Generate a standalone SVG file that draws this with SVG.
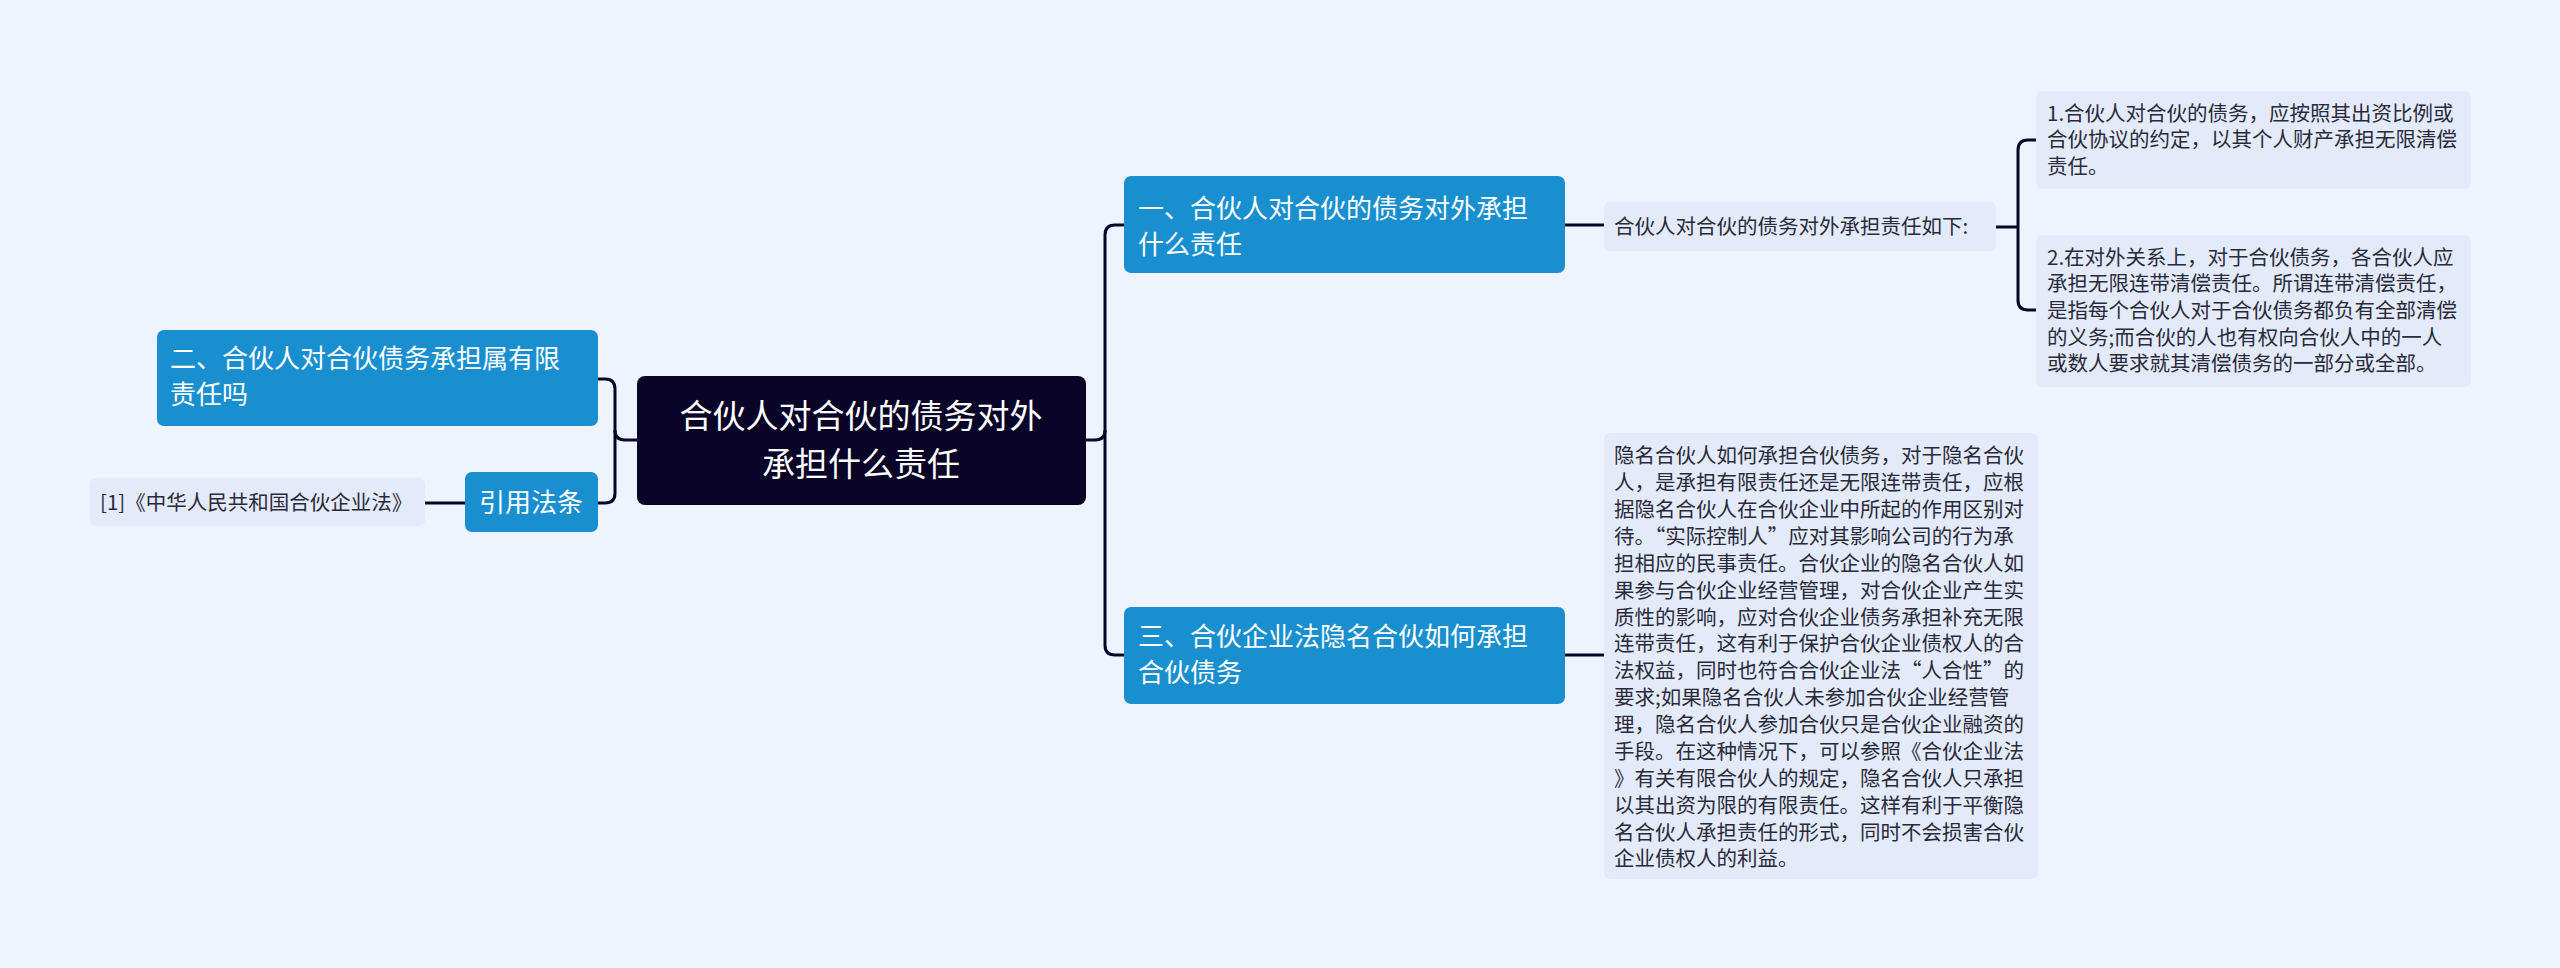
<svg xmlns="http://www.w3.org/2000/svg" width="2560" height="968" viewBox="0 0 2560 968">
<style>
text{font-family:"Noto Sans CJK SC","Noto Sans",sans-serif}
.blue{fill:#1a8fd0}
.lt{fill:#e3ebfb}
.w{fill:#fff;font-size:26px}
.s{fill:#2a2a3a;font-size:20.5px}
.c{fill:none;stroke:#0a0528;stroke-width:3}
</style>
<rect width="2560" height="968" fill="#eef4fe"/>
<g id="connectors">
<path class="c" d="M1086 440H1095Q1105 440 1105 430V235Q1105 225 1115 225H1124"/>
<path class="c" d="M1105 430V645Q1105 655 1115 655H1124"/>
<path class="c" d="M1565 225H1604"/>
<path class="c" d="M1565 655H1604"/>
<path class="c" d="M1996 227H2018"/>
<path class="c" d="M2036 140H2028Q2018 140 2018 150V300Q2018 310 2028 310H2036"/>
<path class="c" d="M637 440H625Q615 440 615 430V389Q615 379 605 379H598"/>
<path class="c" d="M615 430V493Q615 503 605 503H598"/>
<path class="c" d="M465 503H425"/>
</g>
<g id="center">
<rect x="637" y="376" width="449" height="129" rx="8" fill="#0a0528"/>
<text x="861" y="428" text-anchor="middle" fill="#fff" font-size="33">合伙人对合伙的债务对外</text>
<text x="861" y="476" text-anchor="middle" fill="#fff" font-size="33">承担什么责任</text>
</g>
<g id="n1">
<rect class="blue" x="1124" y="176" width="441" height="97" rx="7"/>
<text class="w" x="1138" y="218">一、合伙人对合伙的债务对外承担</text>
<text class="w" x="1138" y="254">什么责任</text>
</g>
<g id="n3">
<rect class="blue" x="1124" y="607" width="441" height="97" rx="7"/>
<text class="w" x="1138" y="646">三、合伙企业法隐名合伙如何承担</text>
<text class="w" x="1138" y="682">合伙债务</text>
</g>
<g id="n2">
<rect class="blue" x="157" y="330" width="441" height="96" rx="7"/>
<text class="w" x="170" y="368">二、合伙人对合伙债务承担属有限</text>
<text class="w" x="170" y="404">责任吗</text>
</g>
<g id="cite">
<rect class="blue" x="465" y="472" width="133" height="60" rx="7"/>
<text class="w" x="531" y="512" text-anchor="middle">引用法条</text>
</g>
<g id="law">
<rect class="lt" x="90" y="478" width="335" height="48" rx="6"/>
<text class="s" x="100" y="510">[1]《中华人民共和国合伙企业法》</text>
</g>
<g id="sub1">
<rect class="lt" x="1604" y="202" width="392" height="49" rx="6"/>
<text class="s" x="1614" y="234">合伙人对合伙的债务对外承担责任如下:</text>
</g>
<g id="d1">
<rect class="lt" x="2036" y="91" width="435" height="98" rx="6"/>
<text class="s" x="2047" y="121">1.合伙人对合伙的债务，应按照其出资比例或</text>
<text class="s" x="2047" y="147">合伙协议的约定，以其个人财产承担无限清偿</text>
<text class="s" x="2047" y="174">责任。</text>
</g>
<g id="d2">
<rect class="lt" x="2036" y="235" width="435" height="152" rx="6"/>
<text class="s" x="2047" y="265">2.在对外关系上，对于合伙债务，各合伙人应</text>
<text class="s" x="2047" y="291">承担无限连带清偿责任。所谓连带清偿责任，</text>
<text class="s" x="2047" y="318">是指每个合伙人对于合伙债务都负有全部清偿</text>
<text class="s" x="2047" y="345">的义务;而合伙的人也有权向合伙人中的一人</text>
<text class="s" x="2047" y="371">或数人要求就其清偿债务的一部分或全部。</text>
</g>
<g id="d3">
<rect class="lt" x="1604" y="433" width="434" height="446" rx="6"/>
<text class="s" x="1614" y="463">隐名合伙人如何承担合伙债务，对于隐名合伙</text>
<text class="s" x="1614" y="490">人，是承担有限责任还是无限连带责任，应根</text>
<text class="s" x="1614" y="517">据隐名合伙人在合伙企业中所起的作用区别对</text>
<text class="s" x="1614" y="544">待。“实际控制人”应对其影响公司的行为承</text>
<text class="s" x="1614" y="571">担相应的民事责任。合伙企业的隐名合伙人如</text>
<text class="s" x="1614" y="598">果参与合伙企业经营管理，对合伙企业产生实</text>
<text class="s" x="1614" y="625">质性的影响，应对合伙企业债务承担补充无限</text>
<text class="s" x="1614" y="651">连带责任，这有利于保护合伙企业债权人的合</text>
<text class="s" x="1614" y="678">法权益，同时也符合合伙企业法“人合性”的</text>
<text class="s" x="1614" y="705">要求;如果隐名合伙人未参加合伙企业经营管</text>
<text class="s" x="1614" y="732">理，隐名合伙人参加合伙只是合伙企业融资的</text>
<text class="s" x="1614" y="759">手段。在这种情况下，可以参照《合伙企业法</text>
<text class="s" x="1614" y="786">》有关有限合伙人的规定，隐名合伙人只承担</text>
<text class="s" x="1614" y="813">以其出资为限的有限责任。这样有利于平衡隐</text>
<text class="s" x="1614" y="840">名合伙人承担责任的形式，同时不会损害合伙</text>
<text class="s" x="1614" y="866">企业债权人的利益。</text>
</g>
</svg>
